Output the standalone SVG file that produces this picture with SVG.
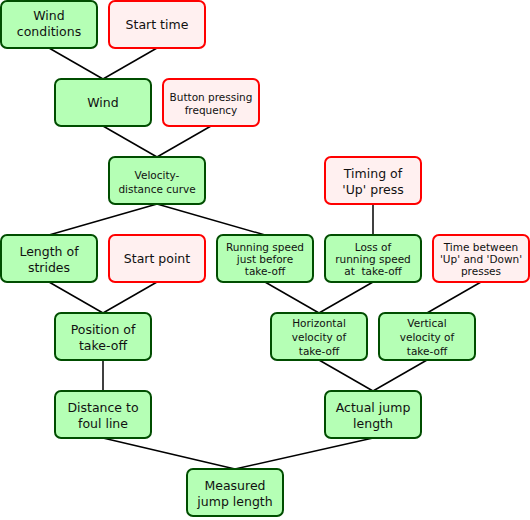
<svg xmlns="http://www.w3.org/2000/svg" width="530" height="520" viewBox="0 0 530 520">
<style>
.g rect{fill:#b5ffb5;stroke:#004d00;stroke-width:2}
.r rect{fill:#fff0f0;stroke:#ff0000;stroke-width:2}
text{font-family:"DejaVu Sans",Verdana,sans-serif;fill:#111;text-anchor:middle}
.L{font-size:12.5px}
.S{font-size:10.5px}
#edges line{stroke:#000;stroke-width:1.5}
</style>
<rect width="530" height="520" fill="#fff"/>
<g id="edges">
<line x1="49" y1="48" x2="103" y2="79"/>
<line x1="157" y1="48" x2="103" y2="79"/>
<line x1="103" y1="126" x2="157" y2="157"/>
<line x1="211" y1="126" x2="157" y2="157"/>
<line x1="157" y1="204" x2="49" y2="235"/>
<line x1="157" y1="204" x2="265" y2="235"/>
<line x1="373" y1="204" x2="373" y2="235"/>
<line x1="49" y1="282" x2="103" y2="313"/>
<line x1="157" y1="282" x2="103" y2="313"/>
<line x1="265" y1="282" x2="319" y2="313"/>
<line x1="373" y1="282" x2="319" y2="313"/>
<line x1="481" y1="282" x2="427" y2="313"/>
<line x1="103" y1="360" x2="103" y2="391"/>
<line x1="319" y1="360" x2="373" y2="391"/>
<line x1="427" y1="360" x2="373" y2="391"/>
<line x1="103" y1="438" x2="235" y2="469"/>
<line x1="373" y1="438" x2="235" y2="469"/>
</g>
<g id="wind-conditions" class="g"><rect x="1" y="1" width="96" height="47" rx="6"/><text class="L" x="49" y="20">Wind</text><text class="L" x="49" y="36">conditions</text></g>
<g id="start-time" class="r"><rect x="109" y="1" width="96" height="47" rx="6"/><text class="L" x="157" y="29">Start time</text></g>
<g id="wind" class="g"><rect x="55" y="79" width="96" height="47" rx="6"/><text class="L" x="103" y="107">Wind</text></g>
<g id="button-pressing-frequency" class="r"><rect x="163" y="79" width="96" height="47" rx="6"/><text class="S" x="211" y="101">Button pressing</text><text class="S" x="211" y="114">frequency</text></g>
<g id="velocity-distance-curve" class="g"><rect x="109" y="157" width="96" height="47" rx="6"/><text class="S" x="157" y="179">Velocity-</text><text class="S" x="157" y="193">distance curve</text></g>
<g id="timing-up-press" class="r"><rect x="325" y="157" width="96" height="47" rx="6"/><text class="L" x="373" y="178">Timing of</text><text class="L" x="373" y="194">'Up' press</text></g>
<g id="length-of-strides" class="g"><rect x="1" y="235" width="96" height="47" rx="6"/><text class="L" x="49" y="256">Length of</text><text class="L" x="49" y="272">strides</text></g>
<g id="start-point" class="r"><rect x="109" y="235" width="96" height="47" rx="6"/><text class="L" x="157" y="263">Start point</text></g>
<g id="running-speed" class="g"><rect x="217" y="235" width="96" height="47" rx="6"/><text class="S" x="265" y="251">Running speed</text><text class="S" x="265" y="263">just before</text><text class="S" x="265" y="275">take-off</text></g>
<g id="loss-of-running-speed" class="g"><rect x="325" y="235" width="96" height="47" rx="6"/><text class="S" x="373" y="251">Loss of</text><text class="S" x="373" y="263">running speed</text><text class="S" x="373" y="275" style="white-space:pre">at  take-off</text></g>
<g id="time-between" class="r"><rect x="433" y="235" width="96" height="47" rx="6"/><text class="S" x="481" y="251">Time between</text><text class="S" x="481" y="263">'Up' and 'Down'</text><text class="S" x="481" y="275">presses</text></g>
<g id="position-of-take-off" class="g"><rect x="55" y="313" width="96" height="47" rx="6"/><text class="L" x="103" y="334">Position of</text><text class="L" x="103" y="350">take-off</text></g>
<g id="horizontal-velocity" class="g"><rect x="271" y="313" width="96" height="47" rx="6"/><text class="S" x="319" y="327">Horizontal</text><text class="S" x="319" y="341">velocity of</text><text class="S" x="319" y="355">take-off</text></g>
<g id="vertical-velocity" class="g"><rect x="379" y="313" width="96" height="47" rx="6"/><text class="S" x="427" y="327">Vertical</text><text class="S" x="427" y="341">velocity of</text><text class="S" x="427" y="355">take-off</text></g>
<g id="distance-to-foul-line" class="g"><rect x="55" y="391" width="96" height="47" rx="6"/><text class="L" x="103" y="412">Distance to</text><text class="L" x="103" y="428">foul line</text></g>
<g id="actual-jump-length" class="g"><rect x="325" y="391" width="96" height="47" rx="6"/><text class="L" x="373" y="412">Actual jump</text><text class="L" x="373" y="428">length</text></g>
<g id="measured-jump-length" class="g"><rect x="187" y="469" width="96" height="47" rx="6"/><text class="L" x="235" y="490">Measured</text><text class="L" x="235" y="506">jump length</text></g>
</svg>
